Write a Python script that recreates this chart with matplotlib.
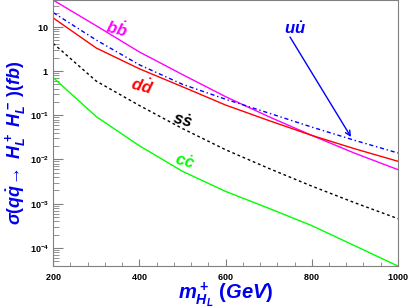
import math

import matplotlib
matplotlib.use("Agg")
import matplotlib.pyplot as plt
from matplotlib.ticker import LogLocator, FixedLocator, MultipleLocator, FuncFormatter, NullFormatter

plt.rcParams["font.family"] = ["Liberation Sans", "DejaVu Sans"]
plt.rcParams["mathtext.fontset"] = "custom"
plt.rcParams["mathtext.rm"] = "Liberation Sans:bold"
plt.rcParams["mathtext.it"] = "Liberation Sans:bold:italic"
plt.rcParams["mathtext.bf"] = "Liberation Sans:bold"
plt.rcParams["mathtext.sf"] = "Liberation Sans:bold"

# charged Higgs mass (GeV) and cross sections (fb)
mass = [200, 300, 400, 500, 600, 700, 800, 900, 1000]
sigma_bb = [40.0, 10.5, 2.69, 0.83, 0.263, 0.093, 0.035, 0.0138, 0.0059]
sigma_uu = [20.9, 5.0, 1.38, 0.50, 0.23, 0.112, 0.054, 0.027, 0.014]
sigma_dd = [15.8, 3.3, 1.12, 0.44, 0.17, 0.076, 0.035, 0.0174, 0.0091]
sigma_ss = [4.2, 0.59, 0.166, 0.050, 0.0166, 0.0063, 0.0025, 0.00105, 0.00046]
sigma_cc = [0.71, 0.093, 0.0204, 0.0054, 0.0019, 0.00079, 0.00032, 0.000112, 0.000039]

fig = plt.figure(figsize=(4.09, 3.08), dpi=100)
ax = fig.add_axes([0.130, 0.136, 0.843, 0.864])

lw = 1.0
ax.plot(mass, sigma_bb, color="#ff00ff", lw=lw)
ax.plot(mass, sigma_dd, color="#ff0000", lw=lw)
ax.plot(mass, sigma_uu, color="#0000ff", lw=lw, linestyle=(0, (3, 2, 1, 2)))
ax.plot(mass, sigma_ss, color="black", lw=lw, linestyle=(0, (2, 2)))
ax.plot(mass, sigma_cc, color="#00ff00", lw=lw)

ax.set_yscale("log")
ax.set_xlim(200, 1000)
ax.set_ylim(10 ** -4.41, 10 ** 1.604)

ax.xaxis.set_major_locator(MultipleLocator(200))
ax.xaxis.set_minor_locator(MultipleLocator(40))
ax.yaxis.set_major_locator(FixedLocator([1e-4, 1e-3, 1e-2, 1e-1, 1, 10]))
ax.yaxis.set_minor_locator(LogLocator(base=10, subs=range(2, 10), numticks=20))
ax.yaxis.set_minor_formatter(NullFormatter())


def ylab(v, _pos):
    if v >= 9:
        return r"$10$"
    if v >= 0.9:
        return r"$1$"
    return r"$10^{%d}$" % round(math.log10(v))


ax.yaxis.set_major_formatter(FuncFormatter(ylab))
ax.xaxis.set_major_formatter(FuncFormatter(lambda v, p: r"$%d$" % v))

ax.tick_params(which="both", direction="in", colors="0.5", labelcolor="black",
               labelsize=6.5, top=False, right=False)
ax.tick_params(which="major", length=7)
ax.tick_params(which="minor", length=4)
ax.tick_params(axis="y", which="major", pad=3)
ax.tick_params(axis="x", which="major", length=5, pad=4)
ax.tick_params(axis="x", which="minor", length=3)
for s in ax.spines.values():
    s.set_color("0.5")
    s.set_linewidth(0.8)

ax.set_ylabel(r"$\sigma(q\dot{q}\!\rightarrow\ H_L^+\ H_L^-\,)(fb)$",
              color="#0000ee", fontsize=13)
ax.yaxis.label.set_va("center")
ax.yaxis.set_label_coords(-0.108, 0.464)
ax.set_xlabel(r"$m_{H_L}^+\ (GeV)$", color="#0000ee", fontsize=14.5)
ax.xaxis.label.set_va("baseline")
ax.xaxis.set_label_coords(0.50, -0.124)

tkw = dict(fontsize=12, ha="center", va="center", rotation=-15)
ax.text(117 / 409, 1 - 28 / 308, r"$b\dot{b}$", color="#ff00ff",
        transform=fig.transFigure, **tkw)
ax.text(142 / 409, 1 - 85 / 308, r"$d\dot{d}$", color="#ff0000",
        transform=fig.transFigure, **tkw)
ax.text(183 / 409, 1 - 121 / 308, r"$s\dot{s}$", color="black",
        transform=fig.transFigure, **tkw)
ax.text(185 / 409, 1 - 162 / 308, r"$c\dot{c}$", color="#00ff00",
        transform=fig.transFigure, **tkw)
ax.text(295 / 409, 1 - 29 / 308, r"$u\dot{u}$", color="#0000ff",
        transform=fig.transFigure, fontsize=12, ha="center", va="center")
ax.annotate("", xy=(351 / 409, 1 - 137 / 308), xytext=(290 / 409, 1 - 37 / 308),
            xycoords="figure fraction", textcoords="figure fraction",
            arrowprops=dict(arrowstyle="->", color="#0000ff", lw=1.0,
                            shrinkA=0, shrinkB=0, mutation_scale=9))

fig.savefig("out.png", dpi=100)
